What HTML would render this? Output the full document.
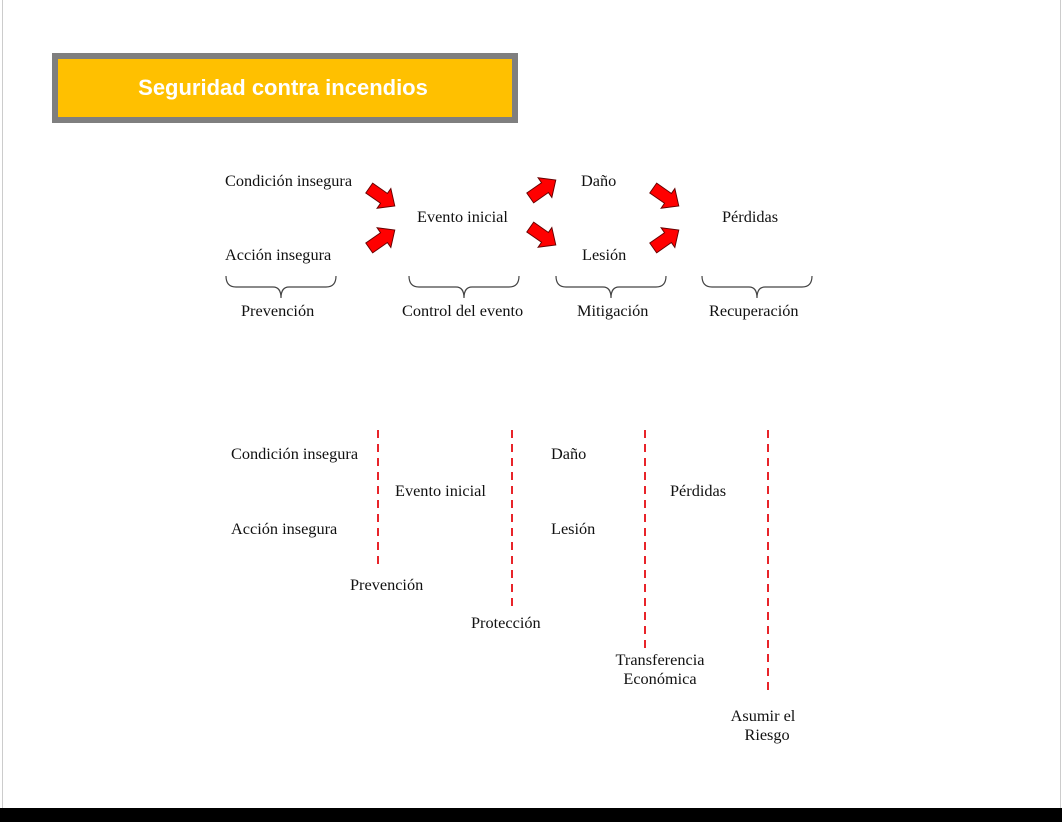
<!DOCTYPE html>
<html><head><meta charset="utf-8"><style>
body{margin:0;width:1062px;height:822px;background:#fff;position:relative;overflow:hidden;font-family:"Liberation Serif",serif;}
.t{position:absolute;font-size:16.3px;color:#111;line-height:19px;white-space:nowrap;margin-top:-1px;}
.c{text-align:center;}
</style></head><body>
<div style="position:absolute;left:2px;top:0;width:1px;height:808px;background:#ccc"></div>
<div style="position:absolute;left:1060px;top:0;width:1px;height:808px;background:#ccc"></div>
<div style="position:absolute;left:0;top:808px;width:1062px;height:14px;background:#000"></div>
<div style="position:absolute;left:52px;top:53px;width:454px;height:58px;border:6px solid #7f7f7f;background:#ffc000;"></div>
<div style="position:absolute;left:56px;top:72px;width:454px;text-align:center;font-family:'Liberation Sans',sans-serif;font-weight:bold;font-size:22px;color:#fff;line-height:32px;">Seguridad contra incendios</div>

<svg width="1062" height="822" style="position:absolute;left:0;top:0">
<defs><polygon id="ar" points="-13,-5 2,-5 2,-10 13,0 2,10 2,5 -13,5" fill="#ff0000" stroke="#600" stroke-width="0.8"/></defs>
<use href="#ar" transform="translate(382,197) rotate(35) scale(1.2)"/>
<use href="#ar" transform="translate(382,239) rotate(-35) scale(1.2)"/>
<use href="#ar" transform="translate(543,189) rotate(-35) scale(1.2)"/>
<use href="#ar" transform="translate(543,236) rotate(35) scale(1.2)"/>
<use href="#ar" transform="translate(666,197) rotate(35) scale(1.2)"/>
<use href="#ar" transform="translate(666,239) rotate(-35) scale(1.2)"/>
<g fill="none" stroke="#444" stroke-width="1.2">
<path d="M226 276 Q226 287 236 287 L273 287 Q281 287 281 298 Q281 287 289 287 L326 287 Q336 287 336 276"/>
<path d="M409 276 Q409 287 419 287 L456 287 Q464 287 464 298 Q464 287 472 287 L509 287 Q519 287 519 276"/>
<path d="M556 276 Q556 287 566 287 L603 287 Q611 287 611 298 Q611 287 619 287 L656 287 Q666 287 666 276"/>
<path d="M702 276 Q702 287 712 287 L749 287 Q757 287 757 298 Q757 287 765 287 L802 287 Q812 287 812 276"/>
</g>
<g stroke="#e8242a" stroke-width="2" stroke-dasharray="8,6">
<line x1="378" y1="430" x2="378" y2="567"/>
<line x1="512" y1="430" x2="512" y2="608"/>
<line x1="645" y1="430" x2="645" y2="650"/>
<line x1="768" y1="430" x2="768" y2="695"/>
</g>
</svg>

<div class="t" style="left:225px;top:172px">Condición insegura</div>
<div class="t" style="left:225px;top:246px">Acción insegura</div>
<div class="t" style="left:417px;top:208px">Evento inicial</div>
<div class="t" style="left:581px;top:172px">Daño</div>
<div class="t" style="left:582px;top:246px">Lesión</div>
<div class="t" style="left:722px;top:208px">Pérdidas</div>
<div class="t" style="left:241px;top:302px">Prevención</div>
<div class="t" style="left:402px;top:302px">Control del evento</div>
<div class="t" style="left:577px;top:302px">Mitigación</div>
<div class="t" style="left:709px;top:302px">Recuperación</div>

<div class="t" style="left:231px;top:445px">Condición insegura</div>
<div class="t" style="left:231px;top:520px">Acción insegura</div>
<div class="t" style="left:395px;top:482px">Evento inicial</div>
<div class="t" style="left:551px;top:445px">Daño</div>
<div class="t" style="left:551px;top:520px">Lesión</div>
<div class="t" style="left:670px;top:482px">Pérdidas</div>
<div class="t" style="left:350px;top:576px">Prevención</div>
<div class="t" style="left:471px;top:614px">Protección</div>
<div class="t c" style="left:605px;top:651px;width:110px">Transferencia<br>Económica</div>
<div class="t c" style="left:713px;top:707px;width:100px">Asumir el<br>&nbsp;&nbsp;Riesgo</div>
</body></html>
